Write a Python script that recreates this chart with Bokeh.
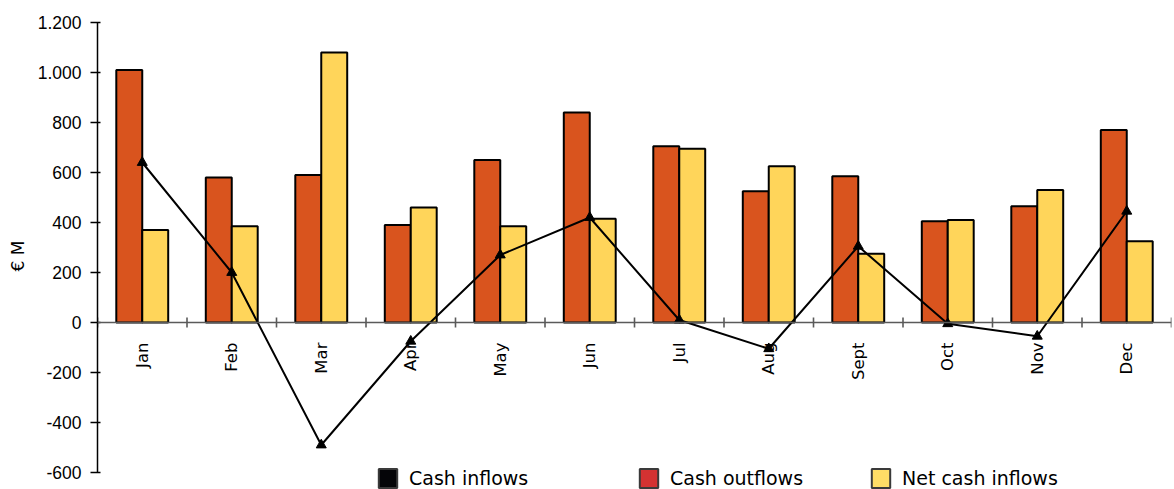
import math
from bokeh.plotting import figure
from bokeh.models import ColumnDataSource, Range1d, FixedTicker, Span, Legend, LegendItem
from bokeh.core.properties import value
from bokeh.embed import file_html
from bokeh.resources import INLINE

months = ["Jan", "Feb", "Mar", "Apr", "May", "Jun", "Jul", "Aug", "Sept", "Oct", "Nov", "Dec"]
outflows_bars = [1010, 580, 590, 390, 650, 840, 705, 525, 585, 405, 465, 770]
net_bars = [370, 385, 1080, 460, 385, 415, 695, 625, 275, 410, 530, 325]
line_values = [640, 200, -490, -75, 270, 420, 10, -105, 305, -5, -55, 445]
y_ticks = [-600, -400, -200, 0, 200, 400, 600, 800, 1000, 1200]
legend_labels = ["Cash inflows", "Cash outflows", "Net cash inflows"]

ORANGE = "#D9541E"
YELLOW = "#FFD55A"
FONT = "DejaVu Sans"

W, H = 1174, 489
FRAME_TOP, AXIS_BOTTOM_PX = 22, 472
px_per_unit = (AXIS_BOTTOM_PX - FRAME_TOP) / (y_ticks[-1] - y_ticks[0])
y_start = y_ticks[0] - (H - AXIS_BOTTOM_PX) / px_per_unit

xs = list(range(1, len(months) + 1))
bw = 0.29
src = ColumnDataSource(dict(
    x=xs,
    xo=[x - bw / 2 for x in xs],
    xn=[x + bw / 2 for x in xs],
    out=outflows_bars,
    net=net_bars,
    line=line_values,
    month=months,
    zero=[0] * len(xs),
))

p = figure(width=W, height=H, output_backend="svg", toolbar_location=None,
           x_range=Range1d(0.5, len(months) + 0.5),
           y_range=Range1d(y_start, y_ticks[-1]),
           min_border_left=97, min_border_top=FRAME_TOP, min_border_bottom=0, min_border_right=3)
p.outline_line_color = None
p.xgrid.visible = False
p.ygrid.visible = False
p.xaxis.visible = False

yax = p.yaxis[0]
yax.ticker = FixedTicker(ticks=y_ticks)
yax.bounds = (y_ticks[0], y_ticks[-1])
yax.major_label_overrides = {t: f"{t:,}".replace(",", ".") for t in y_ticks}
yax.minor_tick_line_color = None
yax.major_tick_out = 7
yax.major_tick_in = 3
yax.major_label_standoff = 9
yax.axis_line_color = "black"
yax.axis_line_width = 1.5
yax.major_tick_line_color = "black"
yax.major_tick_line_width = 1.5
yax.major_label_text_font = "Liberation Sans"
yax.major_label_text_font_size = "17.5px"
yax.major_label_text_color = "black"
yax.axis_label = "€ M"
yax.axis_label_text_font = FONT
yax.axis_label_text_font_size = "17px"
yax.axis_label_text_font_style = "normal"
yax.axis_label_text_color = "black"
yax.axis_label_standoff = 7

# zero line acting as category axis
p.add_layout(Span(location=0, dimension="width", line_color="#5a5a5a", line_width=1.6))
bounds = [i + 0.5 for i in range(len(months) + 1)]
p.scatter(x=bounds, y=[0] * len(bounds), marker="dash", angle=math.pi / 2, size=10,
          line_color="#5a5a5a", line_width=1.6)

p.vbar(x="xo", top="out", bottom=0, width=bw, source=src, fill_color=ORANGE,
       line_color="black", line_width=2)
p.vbar(x="xn", top="net", bottom=0, width=bw, source=src, fill_color=YELLOW,
       line_color="black", line_width=2)

p.line(x="x", y="line", source=src, line_color="black", line_width=2)
p.scatter(x="x", y="line", source=src, marker="triangle", size=10,
          fill_color="black", line_color="black")

p.text(x="x", y="zero", text="month", source=src, angle=math.pi / 2,
       text_align="right", text_baseline="middle", y_offset=20,
       text_font=value(FONT), text_font_size="16.5px", text_color="black")

# legend (separate entries, swatch renderers carry no visible data)
leg_colors = ["#050508", "#D33232", "#FFDD66"]
leg_x = [279, 540, 772]
for lab, col, lx in zip(legend_labels, leg_colors, leg_x):
    r = p.vbar(x=[1], top=[float("nan")], bottom=[float("nan")], width=0.1,
               fill_color=col, line_color="#3a3a3a", line_width=2)
    leg = Legend(items=[LegendItem(label=lab, renderers=[r])], location=(lx, -1),
                 orientation="horizontal", glyph_width=23, glyph_height=24,
                 label_standoff=10, padding=0, margin=0, spacing=0,
                 border_line_alpha=0, background_fill_alpha=0,
                 label_text_font=FONT, label_text_font_size="19px",
                 label_text_color="black")
    p.add_layout(leg, "center")

open("out.html", "w").write(file_html(p, INLINE))
